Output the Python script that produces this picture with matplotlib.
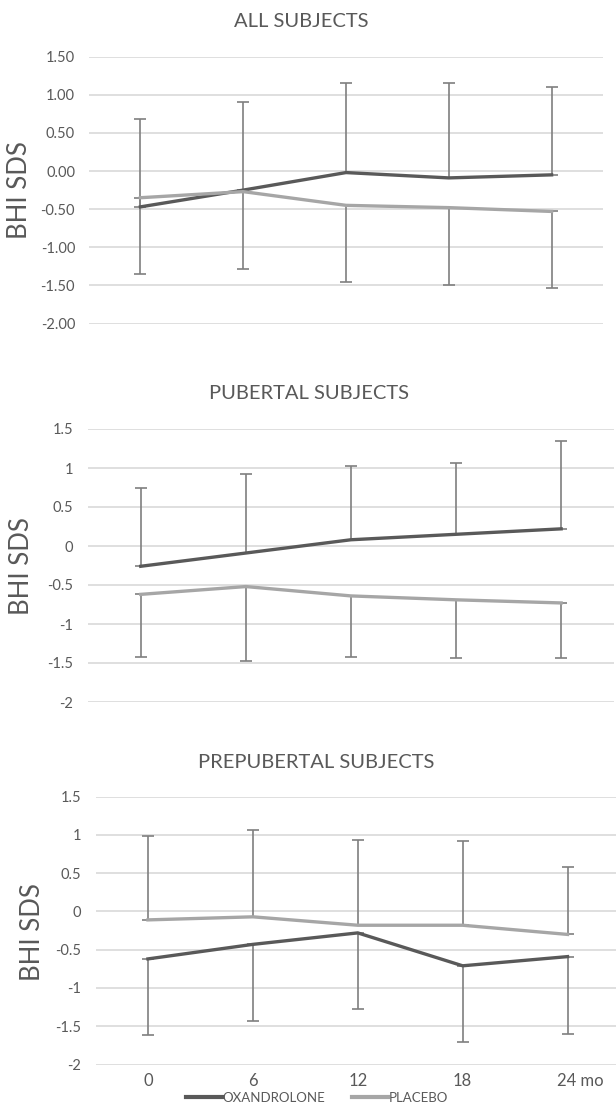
import matplotlib
matplotlib.use("Agg")
import matplotlib.pyplot as plt
import matplotlib.transforms as mtransforms

plt.rcParams['font.family'] = ['Lato', 'DejaVu Sans']

# ---------------- data ----------------
months = ["0", "6", "12", "18", "24 mo"]

titles = ["ALL SUBJECTS", "PUBERTAL SUBJECTS", "PREPUBERTAL SUBJECTS"]

# All subjects
all_oxa = [-0.47, -0.25, -0.02, -0.09, -0.05]
all_oxa_sd = [1.15, 1.15, 1.18, 1.25, 1.15]
all_pla = [-0.35, -0.27, -0.45, -0.48, -0.53]
all_pla_sd = [1.00, 1.01, 1.00, 1.01, 1.01]

# Pubertal subjects
pub_oxa = [-0.26, -0.09, 0.08, 0.15, 0.22]
pub_oxa_sd = [1.00, 1.01, 0.95, 0.92, 1.12]
pub_pla = [-0.62, -0.52, -0.64, -0.69, -0.73]
pub_pla_sd = [0.80, 0.95, 0.78, 0.74, 0.70]

# Prepubertal subjects
pre_oxa = [-0.62, -0.43, -0.28, -0.71, -0.59]
pre_oxa_sd = [1.00, 1.00, 1.00, 1.00, 1.01]
pre_pla = [-0.11, -0.07, -0.18, -0.18, -0.30]
pre_pla_sd = [1.10, 1.13, 1.12, 1.10, 0.88]

ticks_all = [1.5, 1.0, 0.5, 0.0, -0.5, -1.0, -1.5, -2.0]
ticklabels_all = ["1.50", "1.00", "0.50", "0.00", "-0.50", "-1.00", "-1.50", "-2.00"]
ticks_sub = [1.5, 1, 0.5, 0, -0.5, -1, -1.5, -2]
ticklabels_sub = ["1.5", "1", "0.5", "0", "-0.5", "-1", "-1.5", "-2"]

# ---------------- styling ----------------
W, H = 616, 1105
DPI = 100
OXA_C = "#595959"
PLA_C = "#a6a6a6"
ERR_C = "#7f7f7f"
GRID_C = "#d9d9d9"
TXT_C = "#595959"

fig = plt.figure(figsize=(W / DPI, H / DPI), dpi=DPI)
fig.patch.set_facecolor("white")


def px_axes(x0, x1, ytop, ybot):
    return fig.add_axes([x0 / W, 1 - ybot / H, (x1 - x0) / W, (ybot - ytop) / H])


panels = [
    dict(box=(89, 603, 56.7, 323.5), oxa=all_oxa, oxa_sd=all_oxa_sd, pla=all_pla,
         pla_sd=all_pla_sd, oxa_up=True, ticks=ticks_all, tl=ticklabels_all, pad=10,
         title=titles[0], title_xy=(301, 21.5), ylab_x=20, ylab_y=190),
    dict(box=(88.2, 613.7, 429, 702), oxa=pub_oxa, oxa_sd=pub_oxa_sd, pla=pub_pla,
         pla_sd=pub_pla_sd, oxa_up=True, ticks=ticks_sub, tl=ticklabels_sub, pad=11,
         title=titles[1], title_xy=(309, 393), ylab_x=22, ylab_y=566),
    dict(box=(95.5, 620, 796.7, 1064.5), oxa=pre_oxa, oxa_sd=pre_oxa_sd, pla=pre_pla,
         pla_sd=pre_pla_sd, oxa_up=False, ticks=ticks_sub, tl=ticklabels_sub, pad=10.5,
         title=titles[2], title_xy=(316, 762), ylab_x=33, ylab_y=932),
]

x = list(range(len(months)))
lines_for_legend = None
for i, p in enumerate(panels):
    ax = px_axes(*p["box"])
    ax.set_xlim(-0.5, len(months) - 0.5)
    ax.set_ylim(-2.0, 1.5)
    for s in ax.spines.values():
        s.set_visible(False)
    ax.set_yticks(p["ticks"])
    ax.set_yticklabels(p["tl"])
    ax.yaxis.grid(True, color=GRID_C, linewidth=1.2, zorder=0)
    ax.set_axisbelow(True)
    ax.tick_params(axis="y", length=0, pad=p["pad"], labelsize=10.5, labelcolor=TXT_C)
    zeros = [0] * len(x)
    if p["oxa_up"]:
        oxa_err = [zeros, p["oxa_sd"]]
        pla_err = [p["pla_sd"], zeros]
    else:
        oxa_err = [p["oxa_sd"], zeros]
        pla_err = [zeros, p["pla_sd"]]
    ax.errorbar(x, p["oxa"], yerr=oxa_err, fmt="none", ecolor=ERR_C,
                elinewidth=1.2, capsize=4.3, capthick=1.2, zorder=2)
    ax.errorbar(x, p["pla"], yerr=pla_err, fmt="none", ecolor=ERR_C,
                elinewidth=1.2, capsize=4.3, capthick=1.2, zorder=2)
    l1, = ax.plot(x, p["oxa"], color=OXA_C, linewidth=2.4, zorder=3,
                  solid_joinstyle="miter", label="OXANDROLONE")
    l2, = ax.plot(x, p["pla"], color=PLA_C, linewidth=2.4, zorder=3,
                  solid_joinstyle="miter", label="PLACEBO")
    lines_for_legend = (l1, l2)

    ax.set_xticks(x)
    if i == 2:
        ax.set_xticklabels(months)
        ax.tick_params(axis="x", length=0, pad=6, labelsize=12, labelcolor=TXT_C)
        lab = ax.get_xticklabels()[-1]
        lab.set_transform(lab.get_transform() +
                          mtransforms.ScaledTranslation(13 / DPI, 0, fig.dpi_scale_trans))
    else:
        ax.set_xticklabels([])
        ax.tick_params(axis="x", length=0)

    fig.text(p["title_xy"][0] / W, 1 - p["title_xy"][1] / H, p["title"],
             ha="center", va="center", fontsize=14.5, color=TXT_C)
    fig.text(p["ylab_x"] / W, 1 - p["ylab_y"] / H, "BHI SDS", rotation=90,
             ha="center", va="center", fontsize=18.5, color=TXT_C)

leg = fig.legend(lines_for_legend, ["OXANDROLONE", "PLACEBO"], loc="center",
                 bbox_to_anchor=(317 / W, 1 - 1098 / H), ncol=2, frameon=False,
                 fontsize=9.5, handlelength=2.7, handletextpad=0.05, columnspacing=2.05,
                 borderpad=0, borderaxespad=0)
for t in leg.get_texts():
    t.set_color(TXT_C)
for h in leg.legend_handles:
    h.set_linewidth(3)

fig.savefig("out.png", dpi=DPI, facecolor="white")
